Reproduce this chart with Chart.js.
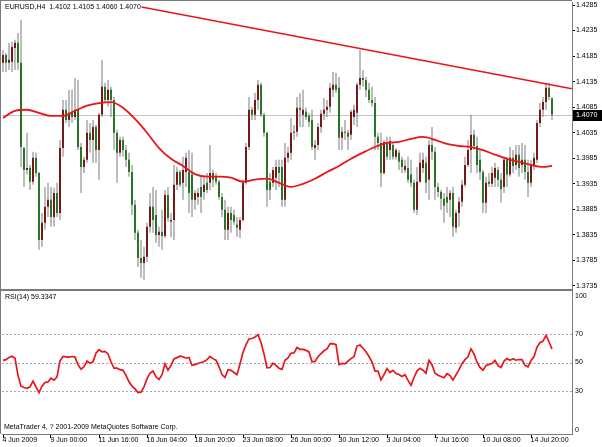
<!DOCTYPE html>
<html><head><meta charset="utf-8">
<script src="https://cdn.jsdelivr.net/npm/chart.js@4.4.1/dist/chart.umd.min.js"></script>
<style>
html,body{margin:0;padding:0;background:#fff;}
#wrap{position:relative;width:602px;height:447px;overflow:hidden;background:#fff;}
#main{position:absolute;left:0;top:0;}
#rsi{position:absolute;left:0;top:290px;}
</style></head><body>
<div id="wrap">
<canvas id="main" width="602" height="291"></canvas>
<canvas id="rsi" width="602" height="157"></canvas>
</div>
<script>
const symbolTitle = 'EURUSD,H4  1.4102 1.4105 1.4060 1.4070';
const rsiTitle = 'RSI(14) 59.3347';
const copyright = 'MetaTrader 4, ? 2001-2009 MetaQuotes Software Corp.';

const openP = [
1.4172,1.4187,1.4172,1.4174,1.4201,1.4211,1.4172,1.4005,1.3962,1.3966,
1.3939,1.3986,1.3956,1.3825,1.3859,1.3890,1.3904,1.3870,1.3917,1.3878,
1.4005,1.4080,1.4060,1.4074,1.4066,1.4080,1.4007,1.3968,1.3982,1.4035,
1.4021,1.4046,1.4001,1.4070,1.4125,1.4099,1.4119,1.4099,1.4035,1.3996,
1.4021,1.4001,1.3982,1.3958,1.3894,1.3839,1.3790,1.3780,1.3792,1.3851,
1.3890,1.3874,1.3835,1.3841,1.3833,1.3913,1.3861,1.3864,1.3933,1.3958,
1.3937,1.3958,1.3958,1.3953,1.3904,1.3909,1.3929,1.3919,1.3937,1.3937,
1.3956,1.3949,1.3939,1.3909,1.3884,1.3845,1.3878,1.3874,1.3855,1.3845,
1.3864,1.3937,1.4007,1.4080,1.4070,1.4099,1.4129,1.4070,1.4035,1.3939,
1.3937,1.3947,1.3968,1.3968,1.3904,1.3986,1.3996,1.4035,1.4037,1.4084,
1.4070,1.4076,1.4068,1.4060,1.4005,1.4011,1.4046,1.4072,1.4080,1.4086,
1.4119,1.4129,1.4123,1.4025,1.4037,1.4035,1.4031,1.4066,1.4074,1.4129,
1.4142,1.4138,1.4119,1.4099,1.4093,1.4027,1.4015,1.3956,1.4017,1.4001,
1.4011,1.3988,1.3996,1.3982,1.3962,1.3966,1.3953,1.3937,1.3884,1.3939,
1.3966,1.3976,1.3943,1.4011,1.3998,1.3929,1.3919,1.3906,1.3909,1.3904,
1.3917,1.3849,1.3878,1.3900,1.3933,1.3972,1.4001,1.4031,1.4009,1.3982,
1.3958,1.3898,1.3939,1.3935,1.3947,1.3962,1.3943,1.3929,1.3982,1.3953,
1.3986,1.3972,1.3992,1.3972,1.3982,1.3958,1.3937,1.3972,1.3982,1.4054,
1.4080,1.4095,1.4123,1.4102];

const highP = [
1.4197,1.4191,1.4211,1.4213,1.4217,1.4230,1.4256,1.4007,1.4035,1.3972,
1.3998,1.3996,1.3958,1.3878,1.3929,1.3937,1.3929,1.3927,1.3937,1.4021,
1.4099,1.4099,1.4119,1.4119,1.4142,1.4138,1.4015,1.3988,1.4060,1.4054,
1.4060,1.4050,1.4074,1.4178,1.4133,1.4138,1.4125,1.4105,1.4041,1.4027,
1.4027,1.4011,1.3996,1.3972,1.3904,1.3845,1.3825,1.3812,1.3859,1.3917,
1.3929,1.3923,1.3851,1.3884,1.3923,1.3929,1.3878,1.3972,1.3968,1.3962,
1.3988,1.3996,1.4001,1.3996,1.3923,1.3927,1.3949,1.3949,1.3956,1.4011,
1.3962,1.3956,1.3943,1.3917,1.3904,1.3890,1.3890,1.3884,1.3870,1.3870,
1.3943,1.4015,1.4105,1.4086,1.4113,1.4138,1.4133,1.4074,1.4037,1.3956,
1.3968,1.3982,1.3982,1.3982,1.4015,1.4007,1.4064,1.4050,1.4105,1.4113,
1.4119,1.4084,1.4074,1.4080,1.4021,1.4054,1.4080,1.4103,1.4099,1.4133,
1.4154,1.4152,1.4144,1.4046,1.4060,1.4041,1.4080,1.4090,1.4133,1.4197,
1.4158,1.4144,1.4133,1.4125,1.4105,1.4035,1.4035,1.4021,1.4027,1.4027,
1.4015,1.4005,1.4001,1.3988,1.3982,1.3988,1.3982,1.3943,1.3968,1.3996,
1.3996,1.3988,1.4021,1.4046,1.4007,1.3937,1.3923,1.3917,1.3929,1.3923,
1.3929,1.3884,1.3909,1.3943,1.3988,1.4021,1.4070,1.4041,1.4027,1.4001,
1.3962,1.3949,1.3956,1.3968,1.3976,1.3968,1.3956,1.3988,1.3988,1.4007,
1.4001,1.4011,1.4011,1.4015,1.4011,1.3982,1.3982,1.3996,1.4060,1.4093,
1.4105,1.4133,1.4133,1.4105];

const lowP = [
1.4154,1.4154,1.4158,1.4154,1.4158,1.4158,1.3968,1.3929,1.3953,1.3923,
1.3933,1.3949,1.3806,1.3812,1.3845,1.3870,1.3851,1.3851,1.3870,1.3864,
1.3988,1.4054,1.4046,1.4054,1.4060,1.4001,1.3917,1.3956,1.3976,1.3996,
1.3976,1.3976,1.3943,1.4066,1.4093,1.4086,1.4066,1.4001,1.3937,1.3988,
1.3988,1.3968,1.3949,1.3874,1.3825,1.3772,1.3751,1.3747,1.3782,1.3839,
1.3839,1.3819,1.3812,1.3806,1.3829,1.3861,1.3831,1.3825,1.3923,1.3929,
1.3904,1.3929,1.3878,1.3870,1.3884,1.3894,1.3878,1.3904,1.3917,1.3923,
1.3929,1.3933,1.3904,1.3870,1.3825,1.3825,1.3839,1.3855,1.3831,1.3829,
1.3861,1.3933,1.4001,1.4060,1.4060,1.4080,1.4066,1.4027,1.3890,1.3904,
1.3929,1.3923,1.3929,1.3890,1.3890,1.3976,1.3982,1.4021,1.4027,1.4046,
1.4046,1.4060,1.4046,1.4001,1.3982,1.4001,1.4035,1.4060,1.4066,1.4074,
1.4105,1.4113,1.4001,1.4001,1.4021,1.4001,1.4021,1.4050,1.4046,1.4119,
1.4125,1.4105,1.4093,1.4086,1.4001,1.4001,1.3929,1.3953,1.3982,1.3982,
1.3982,1.3982,1.3962,1.3956,1.3956,1.3937,1.3929,1.3878,1.3874,1.3937,
1.3956,1.3917,1.3904,1.3982,1.3904,1.3909,1.3884,1.3859,1.3878,1.3870,
1.3831,1.3839,1.3851,1.3890,1.3929,1.3968,1.3956,1.4001,1.3956,1.3943,
1.3878,1.3878,1.3929,1.3929,1.3929,1.3929,1.3898,1.3917,1.3929,1.3949,
1.3956,1.3962,1.3949,1.3956,1.3943,1.3909,1.3929,1.3962,1.3976,1.4046,
1.4066,1.4080,1.4099,1.4060];

const closeP = [
1.4187,1.4172,1.4178,1.4203,1.4211,1.4172,1.4007,1.3962,1.3966,1.3939,
1.3986,1.3956,1.3825,1.3859,1.3890,1.3904,1.3870,1.3917,1.3878,1.4005,
1.4080,1.4060,1.4074,1.4066,1.4080,1.4007,1.3968,1.3982,1.4035,1.4021,
1.4046,1.4001,1.4070,1.4125,1.4099,1.4119,1.4099,1.4035,1.3996,1.4021,
1.4001,1.3982,1.3958,1.3894,1.3839,1.3790,1.3780,1.3792,1.3851,1.3890,
1.3864,1.3835,1.3841,1.3833,1.3913,1.3868,1.3864,1.3933,1.3958,1.3933,
1.3962,1.3986,1.3917,1.3904,1.3917,1.3917,1.3909,1.3933,1.3923,1.3956,
1.3943,1.3939,1.3909,1.3884,1.3845,1.3878,1.3864,1.3861,1.3849,1.3864,
1.3937,1.4007,1.4080,1.4070,1.4099,1.4129,1.4070,1.4035,1.3923,1.3923,
1.3962,1.3968,1.3956,1.3904,1.3986,1.3996,1.4035,1.4037,1.4084,1.4080,
1.4080,1.4066,1.4056,1.4007,1.4011,1.4046,1.4072,1.4080,1.4086,1.4123,
1.4129,1.4119,1.4025,1.4037,1.4035,1.4027,1.4076,1.4080,1.4129,1.4142,
1.4138,1.4119,1.4099,1.4093,1.4027,1.4015,1.3956,1.4017,1.3988,1.4019,
1.3988,1.4001,1.3978,1.3968,1.3970,1.3943,1.3937,1.3884,1.3939,1.3976,
1.3982,1.3937,1.4011,1.3998,1.3929,1.3919,1.3906,1.3892,1.3898,1.3917,
1.3851,1.3878,1.3900,1.3933,1.3972,1.4001,1.4031,1.4009,1.3972,1.3958,
1.3898,1.3937,1.3935,1.3956,1.3966,1.3943,1.3925,1.3982,1.3953,1.3986,
1.3970,1.3992,1.3966,1.3982,1.3958,1.3937,1.3972,1.3986,1.4054,1.4080,
1.4095,1.4123,1.4105,1.4070];

// moving average read at every 4th bar
const maBar = [0,4,8,12,16,20,24,28,32,36,40,44,48,52,56,60,64,68,72,76,80,84,88,92,96,100,104,108,112,116,120,124,128,132,136,140,144,148,152,156,160,164,168,172,176,180,183];
const maVal = [1.4064,1.4078,1.4080,1.4074,1.4068,1.4068,1.4078,1.4088,1.4093,1.4095,1.4084,1.4062,1.4035,1.4005,1.3984,1.3970,1.3954,1.3949,1.3949,1.3947,1.3939,1.3943,1.3945,1.3937,1.3929,1.3935,1.3945,1.3958,1.3970,1.3984,1.3996,1.4007,1.4015,1.4017,1.4023,1.4027,1.4021,1.4013,1.4009,1.4007,1.4001,1.3992,1.3984,1.3978,1.3972,1.3968,1.3970];

// trend line anchors (bar position, price)
const trendBar = [46.2, 189.6];
const trendVal = [1.4281, 1.4121];

const rsiVal = [
51.5,52,53.5,54.4,53,41,33.4,32.5,32,33,
37,33,29,33.5,36,36.4,39,37.6,40,51,
54.2,54,53.8,54.2,53.8,48.5,45.3,47,51,49.5,
50.5,56.5,59,57.5,57.8,56,50.5,46,46,45,
44.5,41,36.5,33.5,31.5,29,29.3,33,38.5,42.5,
44,40,38.2,41.5,49,44.6,48,52.5,53.4,54.4,
54,53,53.5,48,48.5,49.3,50,50.7,52,54.2,
52.7,51.6,47,41.6,39.5,45,44.5,43,41.5,49,
57,62.5,66.5,66.8,67.8,69.5,64,56,46.3,46.5,
49.5,48,46,45.2,51.6,53.2,56.5,56.7,60.5,59.2,
59.2,58.5,57.4,50.5,50.8,54,56.2,58.2,59.5,63,
63.2,62.5,48.5,49.4,49,51,52.7,54,61.5,62.2,
60,57.5,54.2,50.5,44,44,37.8,41.5,45.8,43,
44.5,42.3,41.6,40.2,41.5,37.5,34,39.5,44,46,
44.6,42.5,51.5,48.5,42.5,41.1,40.2,39.3,42.2,40.8,
37.6,41.3,45,49.2,52,54,59.5,56,50.2,46.5,
44.6,47.8,48.7,49.3,51.5,47.8,46.5,51,52.8,51.6,
52.7,51.6,52.1,52,48,47,51.5,54,60.8,63.8,
65,69,64.5,59.3347];

const priceTicks = [1.4285,1.4235,1.4185,1.4135,1.4085,1.4035,1.3985,1.3935,1.3885,1.3835,1.3785,1.3735];
const rsiTicks = [0,30,50,70,100];
const rsiLevels = [30,50,70];
const xTickBar = [0,16,32,48,64,80,96,112,128,144,160,176];
const xTickLabels = ['4 Jun 2009','9 Jun 00:00','11 Jun 16:00','16 Jun 04:00','18 Jun 20:00','23 Jun 08:00','26 Jun 00:00','30 Jun 12:00','3 Jul 04:00','7 Jul 16:00','10 Jul 08:00','14 Jul 20:00'];
const lastPrice = closeP[closeP.length - 1];

const FONT = "'Liberation Sans', Arial, sans-serif";
Chart.defaults.font.family = FONT;
Chart.defaults.font.size = 7;
Chart.defaults.color = '#000';

const BULL = '#771818', BEAR = '#287428', WICK = '#7c7c7c', RED = '#e8161b', FRAME = '#7a7a7a';
const xMin = -1 / 3, xMax = 190 - 1 / 3;

function noPad(s){ s.paddingTop = 0; s.paddingBottom = 0; s.paddingLeft = 0; s.paddingRight = 0; }

const mainDecor = {
  id: 'mainDecor',
  beforeDatasetsDraw(chart) {
    const {ctx, chartArea: a, scales: {y}} = chart;
    const py = Math.round(y.getPixelForValue(lastPrice)) + 0.5;
    ctx.save();
    ctx.strokeStyle = '#c4c4c4'; ctx.lineWidth = 1;
    ctx.beginPath(); ctx.moveTo(a.left, py); ctx.lineTo(a.right, py); ctx.stroke();
    ctx.restore();
  },
  afterDraw(chart) {
    const {ctx, chartArea: a, scales: {y}} = chart;
    ctx.save();
    ctx.strokeStyle = FRAME; ctx.lineWidth = 1;
    ctx.beginPath();
    ctx.moveTo(0, 0.5); ctx.lineTo(a.right, 0.5);
    ctx.moveTo(0.5, 0); ctx.lineTo(0.5, a.bottom);
    ctx.stroke();
    ctx.fillStyle = FRAME;
    ctx.fillRect(0, a.bottom, a.right + 1, 2);
    ctx.font = '7px ' + FONT;
    ctx.textBaseline = 'middle';
    ctx.fillStyle = '#000';
    ctx.fillText(symbolTitle, 5, 7.5);
    const py = Math.round(y.getPixelForValue(lastPrice));
    ctx.fillStyle = '#000';
    ctx.fillRect(a.right + 1, py - 5, 29, 11);
    ctx.fillStyle = '#fff';
    ctx.fillText(lastPrice.toFixed(4), a.right + 4, py + 0.5);
    ctx.restore();
  }
};

new Chart(document.getElementById('main'), {
  type: 'bar',
  data: {
    datasets: [
      { type: 'line', data: trendBar.map((b, k) => ({x: b, y: trendVal[k]})), borderColor: RED, borderWidth: 1.6, pointRadius: 0, order: 0 },
      { type: 'line', data: maBar.map((b, k) => ({x: b, y: maVal[k]})), borderColor: RED, borderWidth: 1.8, pointRadius: 0, cubicInterpolationMode: 'monotone', order: 1 },
      { data: openP.map((o, i) => ({x: i, y: [o, closeP[i]]})), backgroundColor: openP.map((o, i) => closeP[i] > o ? BULL : BEAR), barThickness: 2, grouped: false, minBarLength: 1, inflateAmount: 0, borderWidth: 0, order: 2 },
      { data: lowP.map((l, i) => ({x: i, y: [l, highP[i]]})), backgroundColor: WICK, barThickness: 1, grouped: false, inflateAmount: 0, borderWidth: 0, order: 3 }
    ]
  },
  options: {
    responsive: false, animation: false, devicePixelRatio: 1,
    layout: { padding: { left: 2, top: 2, right: 0, bottom: 2 } },
    plugins: { legend: { display: false }, tooltip: { enabled: false } },
    scales: {
      x: { type: 'linear', min: xMin, max: xMax, offset: false, display: false },
      y: {
        position: 'right', min: 1.37291, max: 1.42909, bounds: 'data',
        afterBuildTicks(s) { s.ticks = priceTicks.map(v => ({value: v})); },
        afterFit(s) { s.width = 30; noPad(s); },
        ticks: { callback: v => v.toFixed(4), padding: 1, autoSkip: false, font: { size: 7 } },
        grid: { drawOnChartArea: false, drawTicks: true, tickLength: 3, tickColor: '#000' },
        border: { display: true, color: FRAME }
      }
    }
  },
  plugins: [mainDecor]
});

const rsiDecor = {
  id: 'rsiDecor',
  beforeDatasetsDraw(chart) {
    const {ctx, chartArea: a, scales: {y}} = chart;
    ctx.save();
    ctx.strokeStyle = '#a8a8a8'; ctx.lineWidth = 1; ctx.setLineDash([2, 2]);
    rsiLevels.forEach(v => {
      const py = Math.round(y.getPixelForValue(v)) + 0.5;
      ctx.beginPath(); ctx.moveTo(a.left, py); ctx.lineTo(a.right, py); ctx.stroke();
    });
    ctx.restore();
  },
  afterDraw(chart) {
    const {ctx, chartArea: a} = chart;
    ctx.save();
    ctx.strokeStyle = FRAME; ctx.lineWidth = 1;
    ctx.beginPath(); ctx.moveTo(0.5, 0); ctx.lineTo(0.5, a.bottom); ctx.stroke();
    ctx.font = '7px ' + FONT; ctx.textBaseline = 'middle'; ctx.fillStyle = '#000';
    ctx.fillText(rsiTitle, 5, 7.5);
    ctx.fillText(copyright, 4, 137.5);
    ctx.restore();
  }
};

new Chart(document.getElementById('rsi'), {
  type: 'line',
  data: {
    datasets: [
      { data: rsiVal.map((v, i) => ({x: i, y: v})), borderColor: RED, borderWidth: 1.7, pointRadius: 0, tension: 0 }
    ]
  },
  options: {
    responsive: false, animation: false, devicePixelRatio: 1,
    layout: { padding: { left: 2, top: 1, right: 0, bottom: 0 } },
    plugins: { legend: { display: false }, tooltip: { enabled: false } },
    scales: {
      x: {
        type: 'linear', min: xMin, max: xMax, offset: false, bounds: 'data',
        afterBuildTicks(s) { s.ticks = xTickBar.map(v => ({value: v})); },
        afterFit(s) { s.height = 13; noPad(s); },
        ticks: { callback: (v, i) => xTickLabels[i], align: 'start', maxRotation: 0, minRotation: 0, autoSkip: false, padding: -2, labelOffset: -0.5, font: { size: 7 } },
        grid: { drawOnChartArea: false, drawTicks: true, tickLength: 4, tickColor: '#000' },
        border: { display: true, color: FRAME }
      },
      y: {
        position: 'right', min: 0, max: 100, bounds: 'data',
        afterBuildTicks(s) {
          const inset = 5 / 1.435;
          s.ticks = rsiTicks.map(v => ({value: Math.min(100 - inset, Math.max(inset * 0.7, v))}));
        },
        afterFit(s) { s.width = 30; noPad(s); },
        ticks: { callback: (v, i) => String(rsiTicks[i]), padding: 3, autoSkip: false, font: { size: 7 } },
        grid: { drawOnChartArea: false, drawTicks: false },
        border: { display: true, color: FRAME }
      }
    }
  },
  plugins: [rsiDecor]
});
</script>
</body></html>
